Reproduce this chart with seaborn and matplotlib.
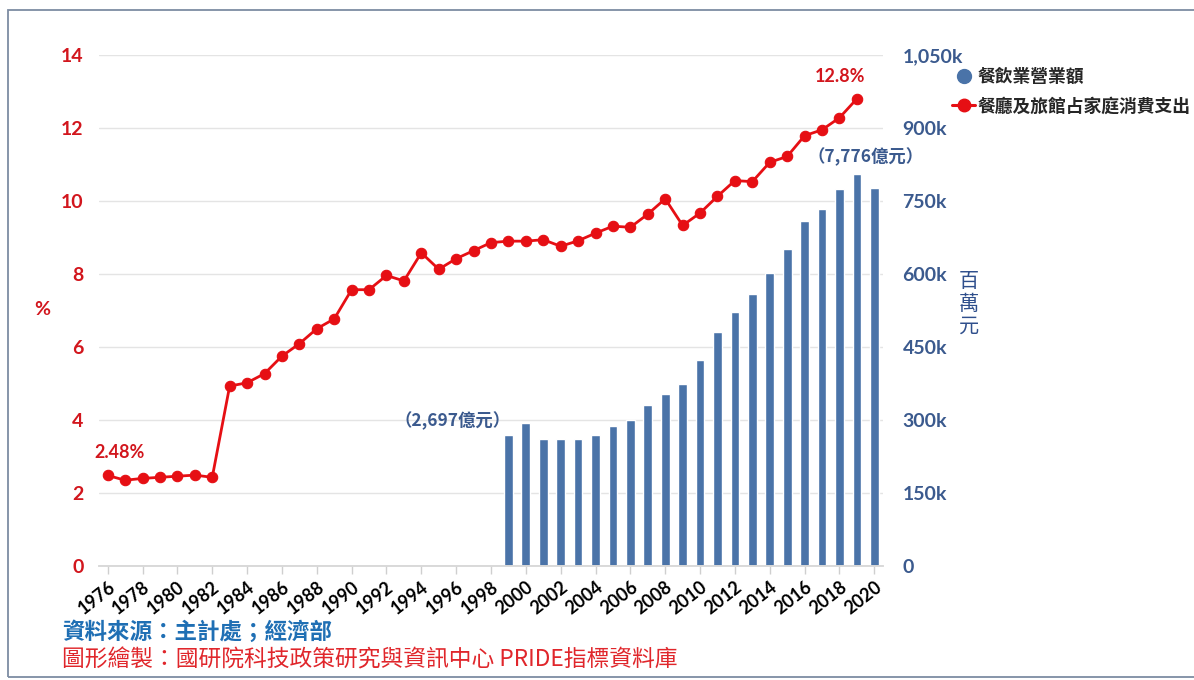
import matplotlib
matplotlib.use("Agg")
import matplotlib.pyplot as plt
from matplotlib.lines import Line2D
from matplotlib.patches import Rectangle
from matplotlib.ticker import FuncFormatter
import seaborn as sns

# Share of restaurant & hotel spending in household consumption (%)
line_years = list(range(1976, 2020))
line_pct = [2.48, 2.35, 2.40, 2.43, 2.46, 2.49, 2.43, 4.93, 5.02, 5.27,
            5.75, 6.09, 6.50, 6.77, 7.57, 7.57, 7.96, 7.81, 8.58, 8.13,
            8.42, 8.64, 8.86, 8.90, 8.90, 8.94, 8.76, 8.91, 9.12, 9.31,
            9.28, 9.64, 10.06, 9.33, 9.67, 10.13, 10.56, 10.53, 11.06, 11.22,
            11.79, 11.95, 12.28, 12.8]

# Food & beverage industry revenue (million NT$)
bar_years = list(range(1999, 2021))
bar_revenue = [269700, 294000, 260000, 260000, 260000, 269000, 288000, 299000,
               331000, 354000, 375000, 423000, 481000, 522000, 559000, 602000,
               651000, 708000, 733000, 775000, 806100, 777600]

year_ticks = list(range(1976, 2021, 2))
pct_ticks = [0, 2, 4, 6, 8, 10, 12, 14]
rev_ticks = [0, 150000, 300000, 450000, 600000, 750000, 900000, 1050000]

bar_label = "餐飲業營業額"
line_label = "餐廳及旅館占家庭消費支出"
source_text = "資料來源：主計處；經濟部"
credit_text = "圖形繪製：國研院科技政策研究與資訊中心 PRIDE指標資料庫"

RED = "#e60f14"
RED_TXT = "#d2161d"
BLUE = "#4a73a8"
BLUE_TXT = "#3b5a8e"
CJK = ["Noto Sans CJK TC", "DejaVu Sans"]

sns.set_theme(style="white")
plt.rcParams["font.family"] = ["Lato", "Noto Sans CJK TC", "DejaVu Sans"]

W, H = 1194, 680
fig = plt.figure(figsize=(W / 100, H / 100), dpi=100)
fig.patch.set_facecolor("white")

ax = fig.add_axes([99 / W, 1 - 566 / H, 784 / W, 511 / H])
ax2 = ax.twinx()

# bars on the right-hand axis
sns.barplot(x=bar_years, y=bar_revenue, native_scale=True, width=0.5,
            color=BLUE, saturation=1, ax=ax2, zorder=2)

# line on the left-hand axis
sns.lineplot(x=line_years, y=line_pct, color=RED, linewidth=2.0, marker="o",
             markersize=7.5, markeredgecolor=RED, markeredgewidth=0.8, ax=ax,
             zorder=5)

ax.set_zorder(ax2.get_zorder() + 1)
ax.patch.set_visible(False)

ax.set_xlim(1975.5, 2020.5)
ax.set_ylim(0, 14)
ax2.set_ylim(0, 1050000)
ax.set_yticks(pct_ticks)
ax2.set_yticks(rev_ticks)
ax.set_xticks(year_ticks)
ax.set_xlabel("")
ax.set_ylabel("")
ax2.set_xlabel("")
ax2.set_ylabel("")

ax2.yaxis.set_major_formatter(
    FuncFormatter(lambda v, _: "0" if v == 0 else f"{v / 1000:,.0f}k"))

# grid
ax2.set_axisbelow(True)
ax2.yaxis.grid(True, color="#e4e4e4", linewidth=1.0, zorder=0)
ax.grid(False)
ax2.xaxis.grid(False)

for a in (ax, ax2):
    for s in ("top", "right", "left"):
        a.spines[s].set_visible(False)
    a.spines["bottom"].set_color("#d9d9d9")
    a.spines["bottom"].set_linewidth(1.2)

ax.tick_params(axis="y", length=0, pad=11, labelsize=14, labelcolor=RED_TXT)
ax2.tick_params(axis="y", length=0, pad=14, labelsize=14, labelcolor=BLUE_TXT)
ax.tick_params(axis="x", length=6, width=1, color="#cfcfcf", direction="out",
               pad=3, labelsize=13, labelcolor="black", bottom=True)
for t in ax.get_yticklabels() + ax2.get_yticklabels():
    t.set_fontweight("bold")
for t in ax.get_xticklabels():
    t.set_fontweight("bold")
    t.set_rotation(38)
    t.set_ha("right")
    t.set_rotation_mode("anchor")

# value annotations
ax.annotate(f"{line_pct[0]}%", xy=(line_years[0], line_pct[0]),
            xytext=(12, 23), textcoords="offset pixels", ha="center",
            va="center", color=RED_TXT, fontsize=13, fontweight="bold")
ax.annotate(f"{line_pct[-1]}%", xy=(line_years[-1], line_pct[-1]),
            xytext=(-17, 22), textcoords="offset pixels", ha="center",
            va="center", color=RED_TXT, fontsize=13, fontweight="bold")

ax2.annotate(f"（{bar_revenue[0] / 100:,.0f}億元）", xy=(bar_years[0], bar_revenue[0]),
             xytext=(-56, 14), textcoords="offset pixels", ha="center",
             va="center", color=BLUE_TXT, fontsize=12.5, fontweight="bold",
             family=CJK)
ax2.annotate(f"（{bar_revenue[-1] / 100:,.0f}億元）", xy=(bar_years[-1], bar_revenue[-1]),
             xytext=(-9, 31), textcoords="offset pixels", ha="center",
             va="center", color=BLUE_TXT, fontsize=12.5, fontweight="bold",
             family=CJK)

# axis unit labels
fig.text(42 / W, 1 - 310 / H, "%", color=RED_TXT, fontsize=14,
         fontweight="bold", ha="center", va="center")
fig.text(969 / W, 1 - 304 / H, "百\n萬\n元", color="#2f4f8c", fontsize=14.5,
         ha="center", va="center", linespacing=1.1, family=CJK)

# legend
handles = [
    Line2D([], [], linestyle="none", marker="o", markersize=10,
           markerfacecolor=BLUE, markeredgecolor=BLUE),
    Line2D([], [], color=RED, linewidth=2.2, marker="o", markersize=9,
           markerfacecolor=RED, markeredgecolor=RED),
]
leg = fig.legend(handles, [bar_label, line_label], loc="upper left",
                 bbox_to_anchor=(945 / W, 1 - 61 / H), frameon=False,
                 handlelength=1.3, handletextpad=0.15, labelspacing=0.65,
                 prop={"size": 12.8, "weight": "bold", "family": CJK},
                 borderaxespad=0)

# footer
fig.text(62 / W, 1 - 632 / H, source_text, color="#1f6fb4", fontsize=16.2,
         fontweight="bold", ha="left", va="center", family=CJK)
fig.text(62 / W, 1 - 660 / H, credit_text, color="#e0262b", fontsize=16.4,
         ha="left", va="center", family=CJK)

# outer frame
fig.patches.append(Rectangle((8 / W, 3 / H), 1.1, 1 - 13 / H,
                             transform=fig.transFigure, fill=False,
                             edgecolor="#7d8ca3", linewidth=1.3))

fig.savefig("out.png", dpi=100, facecolor="white")
